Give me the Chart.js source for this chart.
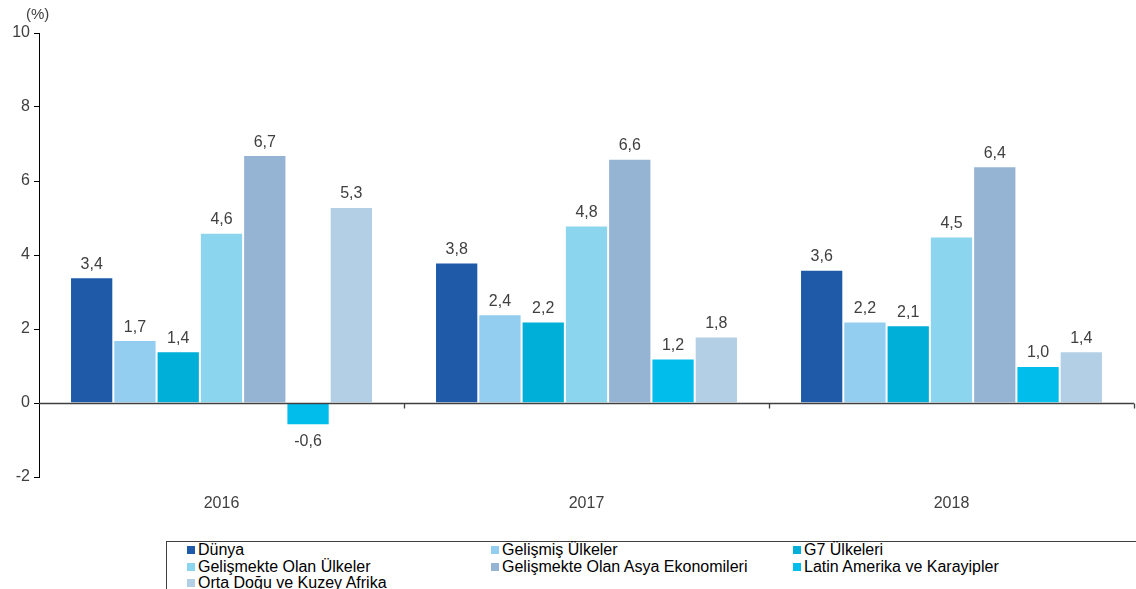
<!DOCTYPE html>
<html>
<head>
<meta charset="utf-8">
<script src="https://cdn.jsdelivr.net/npm/chart.js@4/dist/chart.umd.min.js"></script>
<style>
  body { margin: 0; background: #fff; font-family: "Liberation Sans", Arial, sans-serif; }
  #wrap { position: relative; width: 1136px; height: 589px; overflow: hidden; }
  #chartBox { position: absolute; left: 0; top: 0; width: 1136px; height: 530px; }
  #unit { position: absolute; left: 26px; top: 5px; font-size: 15px; color: #404040; }
  #legend {
    position: absolute; left: 166px; top: 541px; width: 1000px; height: 60px;
    border: 1px solid #404040; box-sizing: border-box;
  }
  .item { position: absolute; font-size: 16px; color: #000; line-height: 16px; white-space: nowrap; }
  .item i { display: inline-block; width: 8px; height: 8px; margin-right: 3px; vertical-align: 1px; }
</style>
</head>
<body>
<div id="wrap">
  <div id="chartBox"><canvas id="c"></canvas></div>
  <div id="unit">(%)</div>
  <div id="legend"></div>
</div>
<script>
const years = ["2016", "2017", "2018"];
const seriesNames = [
    "Dünya",
    "Gelişmiş Ülkeler",
    "G7 Ülkeleri",
    "Gelişmekte Olan Ülkeler",
    "Gelişmekte Olan Asya Ekonomileri",
    "Latin Amerika ve Karayipler",
    "Orta Doğu ve Kuzey Afrika",
];
const dunya = [3.4, 3.8, 3.6];
const gelismis = [1.7, 2.4, 2.2];
const g7 = [1.4, 2.2, 2.1];
const gelismekte = [4.6, 4.8, 4.5];
const asya = [6.7, 6.6, 6.4];
const latin = [-0.6, 1.2, 1.0];
const ortaDogu = [5.3, 1.8, 1.4];
const yTicks = [-2, 0, 2, 4, 6, 8, 10];

const colors = ["#1f5aa8", "#93cdef", "#00afd8", "#8cd5ee", "#95b3d3", "#00bdec", "#b3cfe5"];
const seriesValues = [dunya, gelismis, g7, gelismekte, asya, latin, ortaDogu];
const fontFamily = "'Liberation Sans', Arial, sans-serif";

const datasets = seriesValues.map((values, i) => ({
    label: seriesNames[i],
    data: values,
    backgroundColor: colors[i],
    borderColor: "#ffffff",
    borderWidth: 1,
    categoryPercentage: 0.83,
    barPercentage: 1,
}));

// zero line with category separator ticks
const zeroLine = {
    id: "zeroLine",
    afterDatasetsDraw(chart) {
        const { ctx, chartArea, scales } = chart;
        const y0 = Math.round(scales.y.getPixelForValue(0)) + 0.5;
        ctx.save();
        ctx.strokeStyle = "#404040";
        ctx.lineWidth = 1.3;
        ctx.beginPath();
        ctx.moveTo(chartArea.left, y0);
        ctx.lineTo(chartArea.right, y0);
        const half = (scales.x.getPixelForValue(1) - scales.x.getPixelForValue(0)) / 2;
        for (let i = 0; i < years.length; i++) {
            const bx = Math.round(scales.x.getPixelForValue(i) + half) + 0.5;
            ctx.moveTo(bx, y0);
            ctx.lineTo(bx, y0 + 5);
        }
        ctx.stroke();
        ctx.restore();
    },
};

const valueLabels = {
    id: "valueLabels",
    afterDatasetsDraw(chart) {
        const { ctx } = chart;
        ctx.save();
        ctx.font = "16px " + fontFamily;
        ctx.fillStyle = "#404040";
        ctx.textAlign = "center";
        chart.data.datasets.forEach((ds, di) => {
            chart.getDatasetMeta(di).data.forEach((bar, i) => {
                const v = ds.data[i];
                const text = v.toFixed(1).replace(".", ",");
                if (v >= 0) {
                    ctx.textBaseline = "bottom";
                    ctx.fillText(text, bar.x, bar.y - 5);
                } else {
                    ctx.textBaseline = "top";
                    ctx.fillText(text, bar.x, bar.y + 8);
                }
            });
        });
        ctx.restore();
    },
};

new Chart(document.getElementById("c"), {
    type: "bar",
    data: { labels: years, datasets },
    options: {
        responsive: true,
        maintainAspectRatio: false,
        animation: false,
        layout: { padding: { top: 33, right: 2, left: 0, bottom: 0 } },
        plugins: { legend: { display: false }, tooltip: { enabled: false } },
        scales: {
            x: {
                grid: { display: false },
                border: { display: false },
                ticks: {
                    color: "#404040",
                    font: { size: 16, family: fontFamily },
                    padding: 9,
                },
                afterFit(scale) { scale.height = 53; },
            },
            y: {
                min: -2,
                max: 10,
                afterBuildTicks(scale) { scale.ticks = yTicks.map((v) => ({ value: v })); },
                grid: { drawOnChartArea: false, drawTicks: true, tickLength: 5, color: "#000" },
                border: { display: true, color: "#000", width: 1 },
                ticks: {
                    color: "#404040",
                    font: { size: 16, family: fontFamily },
                    padding: 4,
                },
                afterFit(scale) { scale.width = 39; },
            },
        },
    },
    plugins: [zeroLine, valueLabels],
});

const legendEl = document.getElementById("legend");
const colX = [20, 324, 626];
seriesNames.forEach((name, i) => {
    const el = document.createElement("div");
    el.className = "item";
    el.style.left = colX[i % 3] + "px";
    el.style.top = (Math.floor(i / 3) * 16.5) + "px";
    el.innerHTML = '<i style="background:' + colors[i] + '"></i>' + name;
    legendEl.appendChild(el);
});
</script>
</body>
</html>
